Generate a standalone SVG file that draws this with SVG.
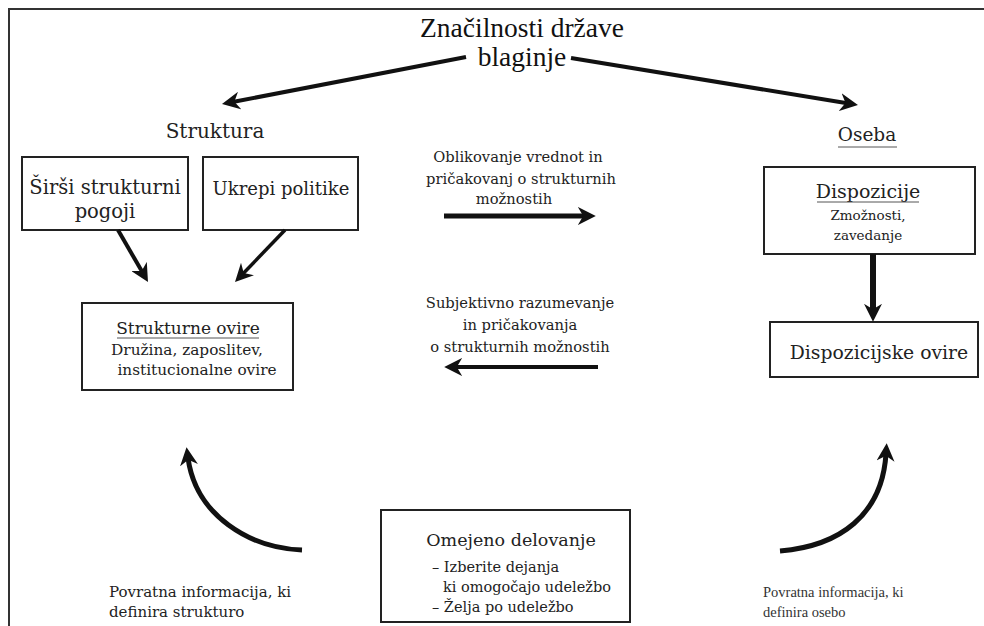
<svg xmlns="http://www.w3.org/2000/svg" width="984" height="626" viewBox="0 0 984 626">
<style>
.t{font-family:"DejaVu Serif","Liberation Serif",serif;fill:#222;}
.title{font-family:"Liberation Serif",serif;font-size:27.5px;fill:#111;}
.box{fill:#fff;stroke:#222;stroke-width:2;}
.c{fill:none;stroke:#111;stroke-linecap:butt;}
.ul{stroke:#555;stroke-width:1;}
</style>
<defs>
<marker id="ah" viewBox="0 0 10 10" refX="4" refY="5" markerWidth="18" markerHeight="18" markerUnits="userSpaceOnUse" orient="auto">
<path d="M0,0 L10,5 L0,10 L3,5 z" fill="#111"/>
</marker>
</defs>
<rect width="984" height="626" fill="#fff"/>
<path d="M9,626 V9 H984" fill="none" stroke="#333" stroke-width="2"/>

<g id="title">
<text class="title" x="522" y="37" text-anchor="middle">Značilnosti države</text>
<text class="title" x="522" y="66" text-anchor="middle">blaginje</text>
</g>

<g id="struktura">
<text class="t" x="215" y="138" font-size="20" text-anchor="middle">Struktura</text>
</g>
<g id="oseba">
<text class="t" x="867" y="141" font-size="18.5" text-anchor="middle">Oseba</text>
<line class="ul" x1="838" y1="147" x2="897" y2="147"/>
</g>

<g id="sirsi">
<rect class="box" x="22" y="157" width="166" height="73"/>
<text class="t" x="105" y="194" font-size="19.5" text-anchor="middle">Širši strukturni</text>
<text class="t" x="105" y="218" font-size="19.5" text-anchor="middle">pogoji</text>
</g>
<g id="ukrepi">
<rect class="box" x="203" y="157" width="155" height="73"/>
<text class="t" x="281" y="195" font-size="18" text-anchor="middle">Ukrepi politike</text>
</g>

<g id="strukturne">
<rect class="box" x="82" y="303" width="211" height="87"/>
<text class="t" x="188" y="334" font-size="17" text-anchor="middle">Strukturne ovire</text>
<line class="ul" x1="117" y1="338" x2="259" y2="338"/>
<text class="t" x="187" y="355" font-size="15.3" text-anchor="middle">Družina, zaposlitev,</text>
<text class="t" x="197" y="375" font-size="15.3" text-anchor="middle">institucionalne ovire</text>
</g>

<g id="label-top">
<text class="t" x="518" y="162" font-size="14.7" text-anchor="middle">Oblikovanje vrednot in</text>
<text class="t" x="521" y="184" font-size="14.7" text-anchor="middle">pričakovanj o strukturnih</text>
<text class="t" x="514" y="204" font-size="14.7" text-anchor="middle">možnostih</text>
</g>
<g id="label-mid">
<text class="t" x="520" y="308" font-size="14.7" text-anchor="middle">Subjektivno razumevanje</text>
<text class="t" x="520" y="330" font-size="14.7" text-anchor="middle">in pričakovanja</text>
<text class="t" x="520" y="352" font-size="14.7" text-anchor="middle">o strukturnih možnostih</text>
</g>

<g id="dispozicije">
<rect class="box" x="764" y="167" width="211" height="87"/>
<text class="t" x="868" y="198" font-size="19" text-anchor="middle">Dispozicije</text>
<line class="ul" x1="817" y1="202" x2="919" y2="202"/>
<text class="t" x="868" y="220" font-size="13.5" text-anchor="middle">Zmožnosti,</text>
<text class="t" x="868" y="240" font-size="13.5" text-anchor="middle">zavedanje</text>
</g>
<g id="dispozicijske">
<rect class="box" x="770" y="322" width="208" height="55"/>
<text class="t" x="879" y="359" font-size="18.8" text-anchor="middle">Dispozicijske ovire</text>
</g>

<g id="omejeno">
<rect class="box" x="381" y="510" width="249" height="112"/>
<text class="t" x="511" y="546" font-size="17.5" text-anchor="middle">Omejeno delovanje</text>
<text class="t" x="432" y="572" font-size="14.5">– Izberite dejanja</text>
<text class="t" x="443" y="592" font-size="14.5">ki omogočajo udeležbo</text>
<text class="t" x="432" y="612" font-size="14.5">– Želja po udeležbo</text>
</g>

<g id="feedback-left">
<text class="t" x="109" y="597" font-size="15">Povratna informacija, ki</text>
<text class="t" x="109" y="617" font-size="15">definira strukturo</text>
</g>
<g id="feedback-right">
<text x="763" y="597" font-size="14.5" font-family="Liberation Serif, serif" fill="#333">Povratna informacija, ki</text>
<text x="763" y="617" font-size="14.5" font-family="Liberation Serif, serif" fill="#333">definira osebo</text>
</g>

<g id="connectors">
<line class="c" x1="466" y1="57" x2="232.6" y2="102" stroke-width="4" marker-end="url(#ah)"/>
<line class="c" x1="571" y1="58" x2="847.3" y2="103.3" stroke-width="4" marker-end="url(#ah)"/>
<line class="c" x1="118" y1="230" x2="142.6" y2="272.6" stroke-width="4" marker-end="url(#ah)"/>
<line class="c" x1="285" y1="230" x2="242.5" y2="274.2" stroke-width="3.5" marker-end="url(#ah)"/>
<line class="c" x1="444" y1="216" x2="585" y2="216" stroke-width="5" marker-end="url(#ah)"/>
<line class="c" x1="598" y1="367" x2="455" y2="367" stroke-width="4" marker-end="url(#ah)"/>
<line class="c" x1="873" y1="254" x2="873" y2="311" stroke-width="6" marker-end="url(#ah)"/>
<path class="c" d="M302,550 C250,548 196,516 188,458" stroke-width="5" marker-end="url(#ah)"/>
<path class="c" d="M780,551 C840,546 882,515 886,454" stroke-width="5" marker-end="url(#ah)"/>
</g>
</svg>
